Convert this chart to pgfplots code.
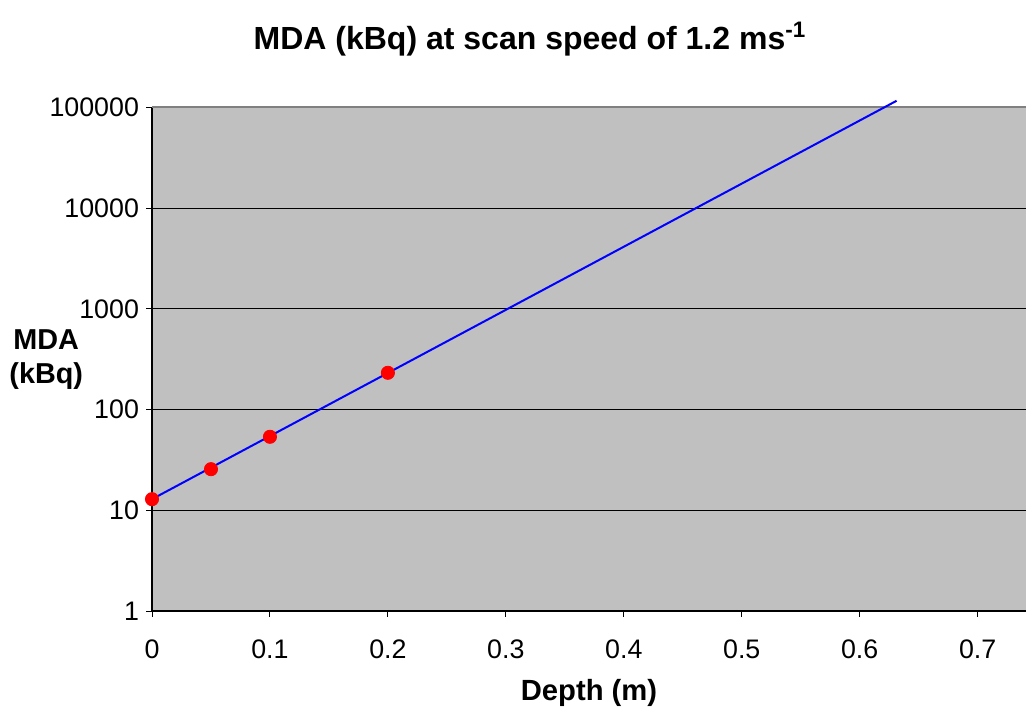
\documentclass[border=0pt]{standalone}
\usepackage{fontspec}
\setmainfont{Liberation Sans}
\usepackage{pgfplots}
\pgfplotsset{compat=1.18}
\definecolor{plotbg}{RGB}{192,192,192}
\definecolor{topline}{RGB}{128,128,128}
\begin{document}
\begin{tikzpicture}
\useasboundingbox (0pt,0pt) rectangle (513pt,355.5pt);
\begin{axis}[
  at={(76pt,50pt)}, anchor=south west,
  scale only axis, width=437pt, height=251.75pt,
  xmin=0, xmax=0.741, ymin=1, ymax=100000,
  ymode=log, log basis y=10,
  axis x line=bottom, axis y line=left,
  axis line style={-, black, line width=0.6pt},
  axis background/.style={fill=plotbg},
  xtick={0,0.1,0.2,0.3,0.4,0.5,0.6,0.7},
  xticklabels={0,0.1,0.2,0.3,0.4,0.5,0.6,0.7},
  ytick={1,10,100,1000,10000,100000},
  yticklabels={1,10,100,1000,10000,100000},
  tick align=outside, major tick length=3pt,
  minor tick length=0pt,
  tick style={black, line width=0.5pt},
  ymajorgrids, major grid style={black, line width=0.5pt},
  ticklabel style={font=\fontsize{13.4}{15}\selectfont},
  xticklabel style={yshift=-8pt},
  /pgf/number format/assume math mode=true,
  every axis y label/.style={at={(rel axis cs:-0.121,0.5)}, anchor=center, align=center, font=\bfseries\fontsize{14.4}{17}\selectfont},
  ylabel={MDA\\(kBq)},
  every axis x label/.style={at={(rel axis cs:0.5,-0.163)}, anchor=center, font=\bfseries\fontsize{14.6}{16}\selectfont},
  xlabel={Depth (m)},
  clip=false,
]
\draw[topline, line width=1pt] (rel axis cs:0,1) -- (rel axis cs:1,1);
\addplot[blue, line width=1pt, no marks] coordinates {(0,12.9) (0.6313,116600)};
\addplot[only marks, mark=*, mark size=3.3pt, mark options={fill=red, draw=red}] coordinates {
(0,12.9) (0.05,25.6) (0.1,53.7) (0.2,232)};
\end{axis}
\node[font=\bfseries\fontsize{16}{18}\selectfont] at (265pt,336pt) {MDA (kBq) at scan speed of 1.2 ms\textsuperscript{-1}};
\end{tikzpicture}
\end{document}
